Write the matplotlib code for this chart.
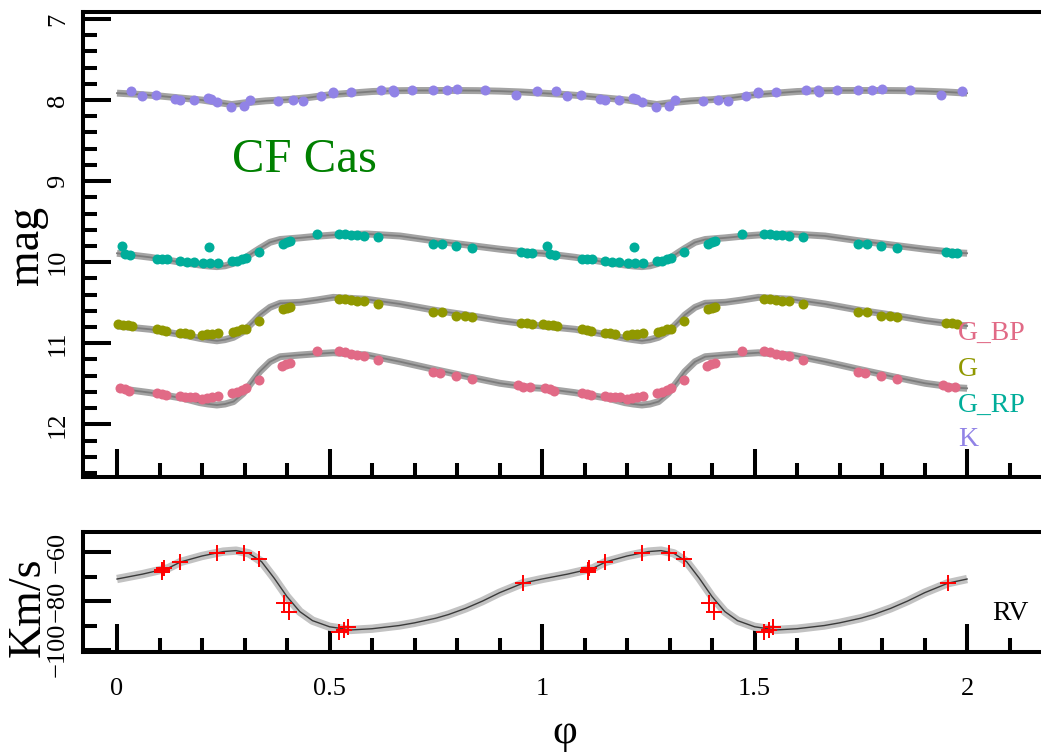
import matplotlib
matplotlib.use("Agg")
import matplotlib.pyplot as plt
from matplotlib.ticker import MultipleLocator

plt.rcParams['font.family'] = ['Liberation Serif', 'DejaVu Serif']

# ---------------- data ----------------
star_name = "CF Cas"
band_names = ["G_BP", "G", "G_RP", "K"]
band_colors = ["#E16A86", "#909800", "#00AD9A", "#9183E6"]

# fitted light-curve templates (phase, mag)
model_phase = [0.0, 0.078, 0.156, 0.195, 0.215, 0.235, 0.254, 0.274, 0.297, 0.321,
               0.336, 0.36, 0.384, 0.431, 0.47, 0.509, 0.588, 0.666, 0.744, 0.823,
               0.901, 0.98, 1.0]
model_g_rp = [9.89, 9.94, 10.006, 10.035, 10.047, 10.055, 10.045, 10.015, 9.965, 9.88,
              9.83, 9.755, 9.72, 9.70, 9.68, 9.665, 9.652, 9.677, 9.735, 9.788,
              9.84, 9.885, 9.89]
model_g = [10.787, 10.828, 10.898, 10.94, 10.956, 10.97, 10.956, 10.927, 10.858, 10.734,
           10.652, 10.557, 10.507, 10.495, 10.467, 10.434, 10.458, 10.516, 10.59, 10.652,
           10.72, 10.775, 10.787]
model_g_bp = [11.556, 11.61, 11.68, 11.733, 11.75, 11.762, 11.75, 11.72, 11.618, 11.454,
              11.35, 11.228, 11.166, 11.145, 11.13, 11.117, 11.145, 11.228, 11.32, 11.41,
              11.494, 11.55, 11.556]
model_k_phase = [0.0, 0.05, 0.1, 0.15, 0.2, 0.25, 0.27, 0.3, 0.35, 0.4, 0.45,
                 0.5, 0.55, 0.6, 0.65, 0.7, 0.75, 0.8, 0.85, 0.9, 0.95, 1.0]
model_k = [7.915, 7.93, 7.95, 7.975, 8.0, 8.04, 8.055, 8.035, 8.01, 7.995, 7.97,
           7.935, 7.915, 7.895, 7.885, 7.882, 7.882, 7.882, 7.884, 7.89, 7.9, 7.915]

# observations (phase, mag)
obs_g_rp_phase = [0.011, 0.019, 0.031, 0.093, 0.105, 0.117, 0.148, 0.165, 0.181,
                  0.202, 0.219, 0.238, 0.217, 0.27, 0.282, 0.293, 0.303, 0.335,
                  0.39, 0.399, 0.407, 0.471, 0.523, 0.536, 0.55, 0.564, 0.58,
                  0.615, 0.744, 0.764, 0.798, 0.835, 0.95, 0.964, 0.976]
obs_g_rp_mag = [9.80, 9.90, 9.91, 9.96, 9.965, 9.965, 9.99, 10.00, 10.00,
                10.01, 10.01, 10.006, 9.81, 9.99, 9.98, 9.965, 9.95, 9.88,
                9.77, 9.755, 9.74, 9.65, 9.65, 9.65, 9.66, 9.665, 9.68,
                9.69, 9.77, 9.78, 9.80, 9.82, 9.88, 9.885, 9.89]

obs_g_phase = [0.003, 0.015, 0.026, 0.035, 0.095, 0.105, 0.115, 0.148, 0.16,
               0.172, 0.199, 0.211, 0.223, 0.238, 0.272, 0.283, 0.293, 0.303,
               0.335, 0.39, 0.399, 0.407, 0.523, 0.536, 0.55, 0.564, 0.58,
               0.615, 0.744, 0.764, 0.798, 0.819, 0.835, 0.95, 0.964, 0.976]
obs_g_mag = [10.76, 10.77, 10.78, 10.79, 10.83, 10.84, 10.845, 10.87, 10.87,
             10.88, 10.90, 10.89, 10.886, 10.87, 10.86, 10.85, 10.83, 10.82,
             10.72, 10.58, 10.57, 10.55, 10.45, 10.455, 10.47, 10.475, 10.48,
             10.52, 10.61, 10.62, 10.66, 10.67, 10.68, 10.745, 10.755, 10.76]

obs_g_bp_phase = [0.007, 0.019, 0.029, 0.095, 0.105, 0.115, 0.148, 0.16, 0.172,
                  0.184, 0.199, 0.211, 0.223, 0.238, 0.27, 0.282, 0.293, 0.303,
                  0.335, 0.388, 0.397, 0.407, 0.471, 0.523, 0.536, 0.55, 0.564,
                  0.58, 0.615, 0.744, 0.76, 0.798, 0.835, 0.944, 0.956, 0.972]
obs_g_bp_mag = [11.556, 11.568, 11.585, 11.618, 11.626, 11.638, 11.65, 11.66, 11.667,
                11.667, 11.69, 11.68, 11.667, 11.65, 11.618, 11.598, 11.577, 11.556,
                11.454, 11.277, 11.256, 11.24, 11.09, 11.09, 11.11, 11.13, 11.145,
                11.157, 11.207, 11.35, 11.37, 11.40, 11.44, 11.52, 11.536, 11.544]

obs_k_phase = [0.032, 0.058, 0.092, 0.136, 0.148, 0.18, 0.215, 0.22, 0.236, 0.268,
               0.299, 0.313, 0.378, 0.415, 0.438, 0.48, 0.507, 0.509, 0.55, 0.62,
               0.65, 0.652, 0.693, 0.744, 0.776, 0.799, 0.866, 0.939, 0.988]
obs_k_mag = [7.888, 7.95, 7.938, 7.987, 8.0, 8.0, 7.97, 7.987, 8.02, 8.08,
             8.07, 8.0, 8.01, 8.0, 8.01, 7.95, 7.897, 7.917, 7.905, 7.876,
             7.876, 7.905, 7.876, 7.876, 7.876, 7.868, 7.876, 7.938, 7.888]

# radial velocity template and measurements (phase, km/s)
rv_model_phase = [0.0, 0.06, 0.12, 0.15, 0.2, 0.25, 0.28, 0.31, 0.34, 0.37, 0.40,
                  0.43, 0.46, 0.50, 0.55, 0.60, 0.664, 0.70, 0.75, 0.78, 0.82,
                  0.86, 0.90, 0.955, 1.0]
rv_model = [-71.0, -69.0, -66.6, -64.0, -61.6, -59.8, -59.4, -60.5, -63.9, -70.7,
            -78.2, -84.3, -88.0, -90.5, -91.8, -91.3, -90.0, -88.9, -87.0, -85.5,
            -83.0, -80.0, -76.6, -72.7, -71.0]
rv_obs_phase = [0.107, 0.11, 0.107, 0.149, 0.236, 0.299, 0.333, 0.392, 0.404,
                0.523, 0.535, 0.543, 0.955]
rv_obs = [-67.3, -66.5, -68.0, -63.9, -60.5, -60.3, -63.0, -80.8, -84.3,
          -92.5, -91.8, -90.5, -72.5]


def two_cycles(phase, values):
    """Repeat a one-cycle series over phases 0..2."""
    return list(phase) + [p + 1 for p in phase], list(values) * 2


# ---------------- figure ----------------
W, H = 1041, 754
fig = plt.figure(figsize=(W / 100, H / 100), dpi=100)


def px_box(left, top, right, bottom):
    return [left / W, 1 - bottom / H, (right - left) / W, (bottom - top) / H]


ax1 = fig.add_axes(px_box(83, 12, 1047, 477))
ax2 = fig.add_axes(px_box(83, 532, 1047, 651.5))

x_lim = (-0.08, 2.188)
spine_w = 2.9

band_models = [(model_phase, model_g_bp), (model_phase, model_g),
               (model_phase, model_g_rp), (model_k_phase, model_k)]
band_obs = [(obs_g_bp_phase, obs_g_bp_mag), (obs_g_phase, obs_g_mag),
            (obs_g_rp_phase, obs_g_rp_mag), (obs_k_phase, obs_k_mag)]

for (mp, mm), (op, om), col in zip(band_models, band_obs, band_colors):
    xp, ym = two_cycles(mp, mm)
    ax1.plot(xp, ym, color="#a3a3a3", lw=5.0, solid_capstyle="butt",
             solid_joinstyle="round", zorder=2)
    ax1.plot(xp, ym, color="#7c7c7c", lw=1.3, solid_joinstyle="round", zorder=3)
    xo, yo = two_cycles(op, om)
    ax1.plot(xo, yo, "o", color=col, ms=7.2, mew=0, zorder=4)

ax1.set_xlim(*x_lim)
ax1.set_ylim(12.65, 6.914)

xr, yr = two_cycles(rv_model_phase, rv_model)
ax2.plot(xr, yr, color="#c2c2c2", lw=6.0, solid_capstyle="butt",
         solid_joinstyle="round", zorder=2)
ax2.plot(xr, yr, color="#3a3a3a", lw=1.0, solid_joinstyle="round", zorder=3)
xo, yo = two_cycles(rv_obs_phase, rv_obs)
ax2.plot(xo, yo, "+", color="red", ms=11, mew=1.4, zorder=4)
ax2.set_xlim(*x_lim)
ax2.set_ylim(-100.6, -51.8)

for ax in (ax1, ax2):
    for side in ("left", "bottom", "top"):
        ax.spines[side].set_linewidth(spine_w)
    ax.spines["right"].set_visible(False)
    ax.xaxis.set_major_locator(MultipleLocator(0.5))
    ax.xaxis.set_minor_locator(MultipleLocator(0.1))
    ax.tick_params(which="major", direction="in", length=20, width=spine_w,
                   top=False, right=False, labelsize=19)
    ax.tick_params(which="minor", direction="in", length=10, width=spine_w,
                   top=False, right=False)
    ax.tick_params(axis="y", pad=10, labelrotation=90)

ax1.yaxis.set_major_locator(MultipleLocator(1))
ax1.yaxis.set_minor_locator(MultipleLocator(0.2))
ax1.tick_params(axis="x", labelbottom=False)
ax2.yaxis.set_major_locator(MultipleLocator(20))
ax2.yaxis.set_minor_locator(MultipleLocator(10))
ax2.tick_params(axis="x", pad=19)
ax2.set_xticks([0, 0.5, 1, 1.5, 2])
ax2.set_xticklabels(["0", "0.5", "1", "1.5", "2"])

for ax in (ax1, ax2):
    for lab in ax.get_yticklabels():
        lab.set_va("center")

# labels and annotations
fig.text(27 / W, 1 - 245 / H, "mag", rotation=90, ha="center", va="center", fontsize=33)
fig.text(28 / W, 1 - 607 / H, "Km/s", rotation=90, ha="center", va="center", fontsize=33)
fig.text(565 / W, 1 - 733 / H, "φ", ha="center", va="center", fontsize=31)
fig.text(232 / W, 1 - 160 / H, star_name, ha="left", va="center", fontsize=35,
         color="#008000")

legend_y = [333, 370, 405, 440]
for name, col, yy in zip(band_names, band_colors, legend_y):
    fig.text(958 / W, 1 - yy / H, name, ha="left", va="center", fontsize=20, color=col)
fig.text(992 / W, 1 - 613 / H, "RV", ha="left", va="center", fontsize=20, color="black")

fig.savefig("out.png", dpi=100)
